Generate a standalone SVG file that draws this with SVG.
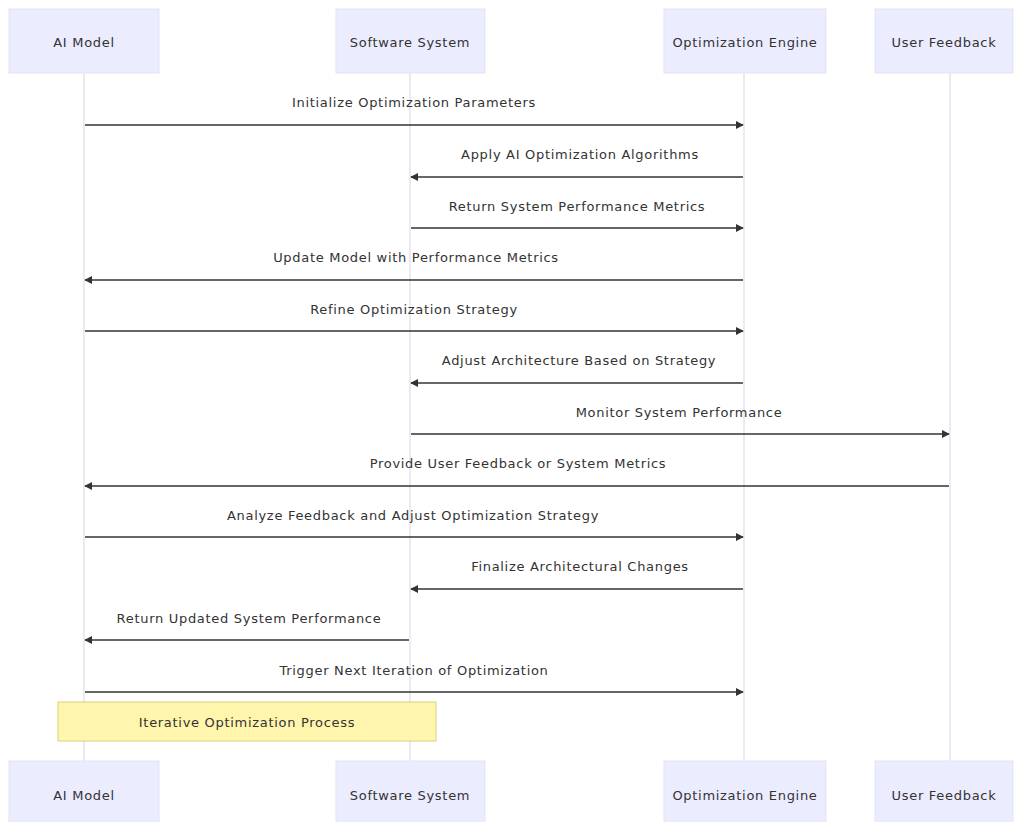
<svg xmlns="http://www.w3.org/2000/svg" width="1023" height="822" viewBox="0 0 1023 822">
<style>
.actor{fill:#ececff;stroke:#e3e3f5;stroke-width:1}
.atext{font-family:"DejaVu Sans",sans-serif;font-size:13px;letter-spacing:0.7px;fill:#333;text-anchor:middle;dominant-baseline:central}
.life{stroke:#dcdcec;stroke-width:1.2}
.msg{stroke:#333;stroke-width:1.5;fill:none}
.mtext{font-family:"DejaVu Sans",sans-serif;font-size:13px;letter-spacing:0.7px;fill:#333;text-anchor:middle}
.note{fill:#fff5ad;stroke:#d6d27a;stroke-width:1}
</style>
<defs>
<marker id="arr" viewBox="0 0 10 10" refX="9" refY="5" markerWidth="8" markerHeight="8" orient="auto-start-reverse" markerUnits="userSpaceOnUse">
<path d="M0,0 L10,5 L0,10 z" fill="#333"/>
</marker>
</defs>
<rect width="1023" height="822" fill="#fff"/>
<g id="lifelines">
<line class="life" x1="84" y1="73" x2="84" y2="761"/>
<line class="life" x1="410" y1="73" x2="410" y2="761"/>
<line class="life" x1="744" y1="73" x2="744" y2="761"/>
<line class="life" x1="950" y1="73" x2="950" y2="761"/>
</g>
<g id="actor-ai-top"><rect class="actor" x="9" y="9" width="150" height="64"/><text class="atext" x="84" y="42">AI Model</text></g>
<g id="actor-ss-top"><rect class="actor" x="336" y="9" width="149" height="64"/><text class="atext" x="410" y="42">Software System</text></g>
<g id="actor-oe-top"><rect class="actor" x="664" y="9" width="162" height="64"/><text class="atext" x="745" y="42">Optimization Engine</text></g>
<g id="actor-uf-top"><rect class="actor" x="875" y="9" width="138" height="64"/><text class="atext" x="944" y="42">User Feedback</text></g>
<g id="connectors">
<line class="msg" x1="85" y1="125" x2="743" y2="125" marker-end="url(#arr)"/>
<line class="msg" x1="743" y1="177" x2="411" y2="177" marker-end="url(#arr)"/>
<line class="msg" x1="411" y1="228" x2="743" y2="228" marker-end="url(#arr)"/>
<line class="msg" x1="743" y1="280" x2="85" y2="280" marker-end="url(#arr)"/>
<line class="msg" x1="85" y1="331" x2="743" y2="331" marker-end="url(#arr)"/>
<line class="msg" x1="743" y1="383" x2="411" y2="383" marker-end="url(#arr)"/>
<line class="msg" x1="411" y1="434" x2="949" y2="434" marker-end="url(#arr)"/>
<line class="msg" x1="949" y1="486" x2="85" y2="486" marker-end="url(#arr)"/>
<line class="msg" x1="85" y1="537" x2="743" y2="537" marker-end="url(#arr)"/>
<line class="msg" x1="743" y1="589" x2="411" y2="589" marker-end="url(#arr)"/>
<line class="msg" x1="409" y1="640" x2="85" y2="640" marker-end="url(#arr)"/>
<line class="msg" x1="85" y1="692" x2="743" y2="692" marker-end="url(#arr)"/>
<text class="mtext" x="414" y="107">Initialize Optimization Parameters</text>
<text class="mtext" x="580" y="159">Apply AI Optimization Algorithms</text>
<text class="mtext" x="577" y="211">Return System Performance Metrics</text>
<text class="mtext" x="416" y="262">Update Model with Performance Metrics</text>
<text class="mtext" x="414" y="314">Refine Optimization Strategy</text>
<text class="mtext" x="579" y="365">Adjust Architecture Based on Strategy</text>
<text class="mtext" x="679" y="417">Monitor System Performance</text>
<text class="mtext" x="518" y="468">Provide User Feedback or System Metrics</text>
<text class="mtext" x="413" y="520">Analyze Feedback and Adjust Optimization Strategy</text>
<text class="mtext" x="580" y="571">Finalize Architectural Changes</text>
<text class="mtext" x="249" y="623">Return Updated System Performance</text>
<text class="mtext" x="414" y="675">Trigger Next Iteration of Optimization</text>
</g>
<g id="note"><rect class="note" x="58" y="702" width="378" height="39"/><text class="atext" x="247" y="722">Iterative Optimization Process</text></g>
<g id="actor-ai-bottom"><rect class="actor" x="9" y="761" width="150" height="64"/><text class="atext" x="84" y="795">AI Model</text></g>
<g id="actor-ss-bottom"><rect class="actor" x="336" y="761" width="149" height="64"/><text class="atext" x="410" y="795">Software System</text></g>
<g id="actor-oe-bottom"><rect class="actor" x="664" y="761" width="162" height="64"/><text class="atext" x="745" y="795">Optimization Engine</text></g>
<g id="actor-uf-bottom"><rect class="actor" x="875" y="761" width="138" height="64"/><text class="atext" x="944" y="795">User Feedback</text></g>
</svg>
